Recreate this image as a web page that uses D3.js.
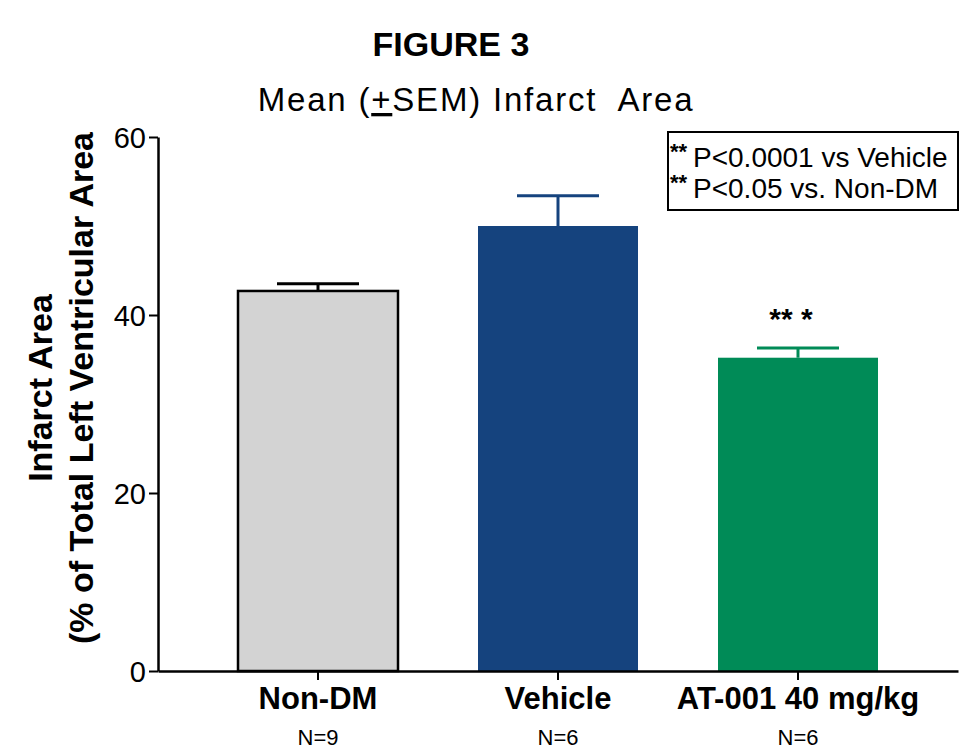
<!DOCTYPE html>
<html>
<head>
<meta charset="utf-8">
<script src="https://cdn.jsdelivr.net/npm/d3@7"></script>
<style>
  body { margin: 0; background: #fff; }
  svg { font-family: 'Liberation Sans', Arial, sans-serif; }
</style>
</head>
<body>
<div id="graf"></div>
<script>
// data
const groups = ['Non-DM', 'Vehicle', 'AT-001 40 mg/kg']
const means = [42.7, 50.0, 35.2]
const sems = [0.8, 3.4, 1.1]
const nLabels = ['N=9', 'N=6', 'N=6']
const yTicks = [0, 20, 40, 60]
const fills = ['#d3d3d3', '#15437e', '#008b57']
const strokes = ['#000', '#15437e', '#008b57']
const legendLines = ['P<0.0001 vs Vehicle', 'P<0.05 vs. Non-DM']

const anchoTotal = 962
const altoTotal = 751

const svg = d3.select('#graf')
  .append('svg')
  .attr('width', anchoTotal)
  .attr('height', altoTotal)

const x = d3.scaleBand()
  .domain(groups)
  .range([158, 958])
  .paddingInner(1 / 3)
  .paddingOuter(1 / 3)

const y = d3.scaleLinear()
  .domain([0, 60])
  .range([671, 137])

// y axis
const yAxis = svg.append('g')
  .attr('transform', 'translate(158,0)')
  .call(d3.axisLeft(y).tickValues(yTicks).tickSize(9).tickPadding(3).tickSizeOuter(0))
yAxis.select('.domain').attr('stroke', '#000').attr('stroke-width', 2.5)
yAxis.selectAll('.tick line').attr('stroke', '#000').attr('stroke-width', 2)
yAxis.selectAll('text')
  .attr('font-size', 29)
  .attr('fill', '#000')
  .attr('font-family', 'Liberation Sans, Arial, sans-serif')
  .attr('dy', '0.36em')

// bars
svg.selectAll('rect.bar')
  .data(groups)
  .enter()
  .append('rect')
  .attr('class', 'bar')
  .attr('x', d => x(d))
  .attr('width', x.bandwidth())
  .attr('y', (d, i) => y(means[i]))
  .attr('height', (d, i) => y(0) - y(means[i]))
  .attr('fill', (d, i) => fills[i])
  .attr('stroke', (d, i) => i === 0 ? '#000' : 'none')
  .attr('stroke-width', 2.5)

// error bars (upper only)
const err = svg.selectAll('g.err')
  .data(groups)
  .enter()
  .append('g')
  .attr('class', 'err')
  .attr('stroke', (d, i) => strokes[i])
  .attr('stroke-width', 3)

err.append('line')
  .attr('x1', d => x(d) + x.bandwidth() / 2)
  .attr('x2', d => x(d) + x.bandwidth() / 2)
  .attr('y1', (d, i) => y(means[i]))
  .attr('y2', (d, i) => y(means[i] + sems[i]))

err.append('line')
  .attr('x1', d => x(d) + x.bandwidth() / 2 - 41)
  .attr('x2', d => x(d) + x.bandwidth() / 2 + 41)
  .attr('y1', (d, i) => y(means[i] + sems[i]))
  .attr('y2', (d, i) => y(means[i] + sems[i]))

// x axis
const xAxis = svg.append('g')
  .attr('transform', `translate(0,${y(0)})`)
  .call(d3.axisBottom(x).tickSize(9).tickSizeOuter(0).tickFormat(''))
xAxis.select('.domain').attr('stroke', '#000').attr('stroke-width', 2.5)
xAxis.selectAll('.tick line').attr('stroke', '#000').attr('stroke-width', 2)

svg.selectAll('text.xlab')
  .data(groups)
  .enter()
  .append('text')
  .attr('class', 'xlab')
  .attr('x', d => x(d) + x.bandwidth() / 2)
  .attr('y', 709)
  .attr('text-anchor', 'middle')
  .attr('font-size', 31)
  .attr('font-weight', 'bold')
  .text(d => d)

svg.selectAll('text.nlab')
  .data(groups)
  .enter()
  .append('text')
  .attr('class', 'nlab')
  .attr('x', d => x(d) + x.bandwidth() / 2)
  .attr('y', 745)
  .attr('text-anchor', 'middle')
  .attr('font-size', 22)
  .text((d, i) => nLabels[i])

// significance stars
svg.append('text')
  .attr('x', x(groups[2]) + x.bandwidth() / 2 - 7)
  .attr('y', 329)
  .attr('text-anchor', 'middle')
  .attr('font-size', 30)
  .attr('font-weight', 'bold')
  .text('** *')

// titles
svg.append('text')
  .attr('x', 451)
  .attr('y', 56)
  .attr('text-anchor', 'middle')
  .attr('font-size', 34)
  .attr('font-weight', 'bold')
  .text('FIGURE 3')

const sub = svg.append('text')
  .attr('x', 476)
  .attr('y', 111)
  .attr('text-anchor', 'middle')
  .attr('font-size', 33)
  .attr('letter-spacing', 1.8)
  .attr('xml:space', 'preserve')
sub.append('tspan').text('Mean (')
sub.append('tspan').attr('text-decoration', 'underline').text('+')
sub.append('tspan').text('SEM) Infarct  Area')

// y axis title
const yt = svg.append('text')
  .attr('transform', 'translate(0,388) rotate(-90)')
  .attr('text-anchor', 'middle')
  .attr('font-size', 34)
  .attr('font-weight', 'bold')
yt.append('tspan').attr('x', 0).attr('y', 52).text('Infarct Area')
yt.append('tspan').attr('x', 0).attr('y', 93).text('(% of Total Left Ventricular Area')

// legend box
const lg = svg.append('g').attr('transform', 'translate(668,132)')
lg.append('rect')
  .attr('width', 290)
  .attr('height', 78)
  .attr('fill', '#fff')
  .attr('stroke', '#000')
  .attr('stroke-width', 2)
legendLines.forEach((t, i) => {
  lg.append('text')
    .attr('x', 2)
    .attr('y', 27 + i * 31)
    .attr('font-size', 22)
    .attr('font-weight', 'bold')
    .text('**')
  lg.append('text')
    .attr('x', 25)
    .attr('y', 35 + i * 31)
    .attr('font-size', 28)
    .text(t)
})
</script>
</body>
</html>
